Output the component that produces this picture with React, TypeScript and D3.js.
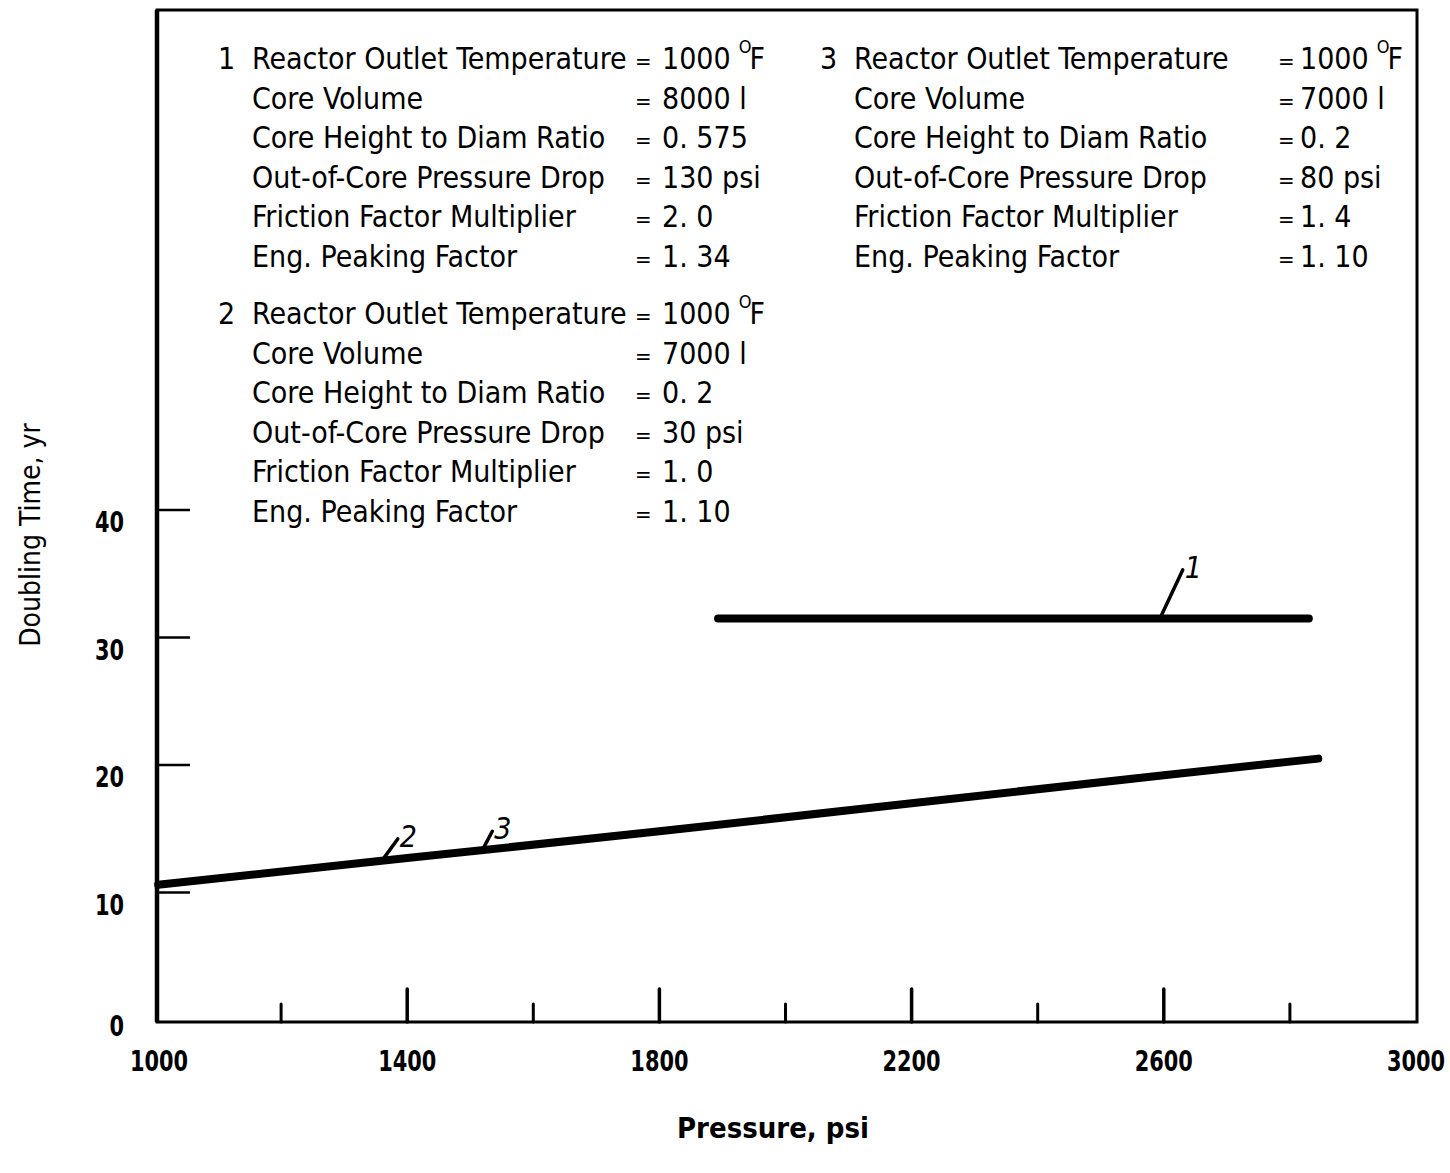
import { useRef, useEffect } from 'react';
import * as d3 from 'd3';

// pressure (psi) vs doubling time (yr)
const CURVE_1: [number, number][] = [
  [1893, 31.5],
  [2830, 31.5],
];
const CURVE_23: [number, number][] = [
  [1005, 10.6],
  [1400, 12.7],
  [1800, 14.8],
  [2200, 17.0],
  [2600, 19.2],
  [2845, 20.5],
];

const X_MAJOR = [1400, 1800, 2200, 2600];
const X_MINOR = [1200, 1600, 2000, 2400, 2800];
const X_LABELS = [1000, 1400, 1800, 2200, 2600, 3000];
const Y_TICKS = [10, 20, 30, 40];
const Y_LABELS = [0, 10, 20, 30, 40];

const PARAM_NAMES = [
  'Reactor Outlet Temperature',
  'Core Volume',
  'Core Height to Diam Ratio',
  'Out-of-Core Pressure Drop',
  'Friction Factor Multiplier',
  'Eng.  Peaking Factor',
];
const CASE_1 = ['1000', '8000 l', '0. 575', '130 psi', '2. 0', '1. 34'];
const CASE_2 = ['1000', '7000 l', '0. 2', '30 psi', '1. 0', '1. 10'];
const CASE_3 = ['1000', '7000 l', '0. 2', '80 psi', '1. 4', '1. 10'];

// curve tags: [label, pressure on curve, yr on curve, pressure at tag, yr at tag]
const TAGS: [string, number, number, number, number][] = [
  ['1', 2595, 31.6, 2630, 35.3],
  ['2', 1360, 12.5, 1385, 14.2],
  ['3', 1520, 13.4, 1535, 14.8],
];

const FONT = "'DejaVu Sans Condensed', 'DejaVu Sans', sans-serif";

export default function App() {
  const ref = useRef<SVGSVGElement>(null);

  useEffect(() => {
    const svg = ref.current;
    if (!svg) return;
    const W = 1450, H = 1173;
    d3.select(svg).selectAll('*').remove();
    const g = d3.select(svg).attr('viewBox', `0 0 ${W} ${H}`).append('g')
      .style('font-family', FONT).style('font-stretch', 'condensed');

    const x = d3.scaleLinear().domain([1000, 3000]).range([155, 1416]);
    const y = d3.scaleLinear().domain([0, 40]).range([1020, 510]);
    const top = 10, bottom = 1022, left = 157, right = 1417;

    // narrow bold label, squeezed horizontally
    const label = (tx: number, ty: number, s: string | number, anchor: string) =>
      g.append('text').attr('transform', `translate(${tx},${ty}) scale(0.8,1)`)
        .attr('text-anchor', anchor).attr('font-size', 29).attr('font-weight', 'bold').text(s);

    // frame
    g.append('rect').attr('x', left).attr('y', top).attr('width', right - left).attr('height', bottom - top)
      .attr('fill', 'none').attr('stroke', '#000').attr('stroke-width', 3);
    g.append('line').attr('x1', left).attr('x2', left).attr('y1', top).attr('y2', bottom)
      .attr('stroke', '#000').attr('stroke-width', 4.5);

    // x ticks
    X_MAJOR.forEach((v) => {
      g.append('line').attr('x1', x(v)).attr('x2', x(v)).attr('y1', bottom).attr('y2', bottom - 33)
        .attr('stroke', '#000').attr('stroke-width', 3.5).attr('stroke-linecap', 'round');
    });
    X_MINOR.forEach((v) => {
      g.append('line').attr('x1', x(v)).attr('x2', x(v)).attr('y1', bottom).attr('y2', bottom - 18)
        .attr('stroke', '#000').attr('stroke-width', 3).attr('stroke-linecap', 'round');
    });
    X_LABELS.forEach((v) => label(x(v) + (v === 1000 ? 4 : 0), 1071, v, 'middle'));

    // y ticks
    Y_TICKS.forEach((v) => {
      g.append('line').attr('x1', left).attr('x2', left + 33).attr('y1', y(v)).attr('y2', y(v))
        .attr('stroke', '#000').attr('stroke-width', 2.5);
    });
    Y_LABELS.forEach((v) => label(124, v === 0 ? bottom + 14 : y(v) + 22, v, 'end'));

    // axis titles
    g.append('text').attr('x', 773).attr('y', 1138).attr('text-anchor', 'middle')
      .attr('font-size', 29).attr('font-weight', 'bold').text('Pressure, psi');
    g.append('text').attr('transform', 'translate(40,535) rotate(-90)').attr('text-anchor', 'middle')
      .attr('font-size', 28).text('Doubling Time, yr');

    // curves
    const line = d3.line<[number, number]>().x((d) => x(d[0])).y((d) => y(d[1]));
    [CURVE_1, CURVE_23].forEach((c) => {
      g.append('path').attr('d', line(c)).attr('fill', 'none').attr('stroke', '#000')
        .attr('stroke-width', 8).attr('stroke-linecap', 'round');
    });

    // curve tags
    TAGS.forEach(([lab, px, py, tx, ty]) => {
      g.append('line').attr('x1', x(px)).attr('y1', y(py)).attr('x2', x(tx)).attr('y2', y(ty))
        .attr('stroke', '#000').attr('stroke-width', 3.5).attr('stroke-linecap', 'round');
      g.append('text').attr('x', x(tx) + 2).attr('y', y(ty) + 8)
        .attr('font-size', 30).attr('font-style', 'italic').text(lab);
    });

    // parameter blocks
    const blocks: [string, string[], number, number, number, number][] = [
      ['1', CASE_1, 218, 69, 635, 662],
      ['2', CASE_2, 218, 324, 635, 662],
      ['3', CASE_3, 820, 69, 1278, 1300],
    ];
    const rowH = 39.6;
    blocks.forEach(([num, vals, bx, by, eqX, valX]) => {
      g.append('text').attr('x', bx).attr('y', by).attr('font-size', 30).text(num);
      PARAM_NAMES.forEach((name, i) => {
        const ty = by + i * rowH;
        g.append('text').attr('x', bx + 34).attr('y', ty).attr('font-size', 30).text(name);
        g.append('text').attr('x', eqX).attr('y', ty).attr('font-size', 22).text('=');
        const t = g.append('text').attr('x', valX).attr('y', ty).attr('font-size', 30).text(vals[i]);
        if (i === 0) {
          t.append('tspan').attr('dx', 8).attr('dy', -16).attr('font-size', 18).text('O');
          t.append('tspan').attr('dx', -2).attr('dy', 16).text('F');
        }
      });
    });
  }, []);

  return (
    <svg
      ref={ref}
      width={1450}
      height={1173}
      style={{ position: 'absolute', left: 0, top: 0, background: '#fff' }}
    />
  );
}
